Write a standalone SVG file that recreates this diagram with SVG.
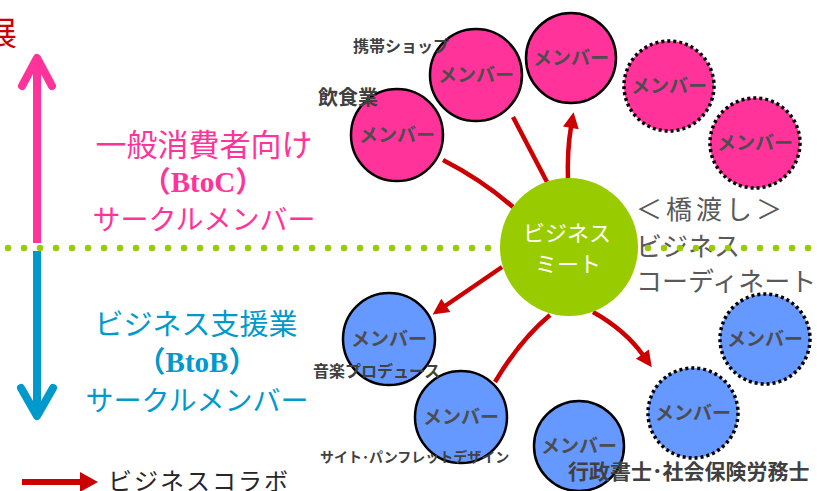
<svg xmlns="http://www.w3.org/2000/svg" width="817" height="491" viewBox="0 0 817 491">
<style>
.jp{font-family:"Noto Sans CJK JP","Noto Sans",sans-serif}
.mem{font-family:"Noto Sans CJK JP",sans-serif;font-size:19px;font-weight:700;fill:#4d4d4d;text-anchor:middle}
.lbl{font-family:"Noto Sans CJK JP",sans-serif;font-weight:700;fill:#404040}
.pk{fill:#ff3399;stroke:#000;stroke-width:2.5}
.pkd{fill:#ff3399;stroke:#000;stroke-width:3.5;stroke-dasharray:3 3}
.bl{fill:#6699ff;stroke:#000;stroke-width:2.5}
.bld{fill:#6699ff;stroke:#000;stroke-width:3.5;stroke-dasharray:3 3}
.con{fill:none;stroke:#cc0000;stroke-width:4.5}
.gray{font-family:"Noto Sans CJK JP",sans-serif;font-size:26px;fill:#595959}
</style>
<defs>
<marker id="ah" markerUnits="userSpaceOnUse" markerWidth="16" markerHeight="18" refX="0" refY="8" orient="auto" overflow="visible">
<path d="M-1,0 L15,8 L-1,16 z" fill="#cc0000"/>
</marker>
</defs>
<rect width="817" height="491" fill="#fff"/>

<g id="title">
<text x="-16" y="45" class="jp" font-size="33" fill="#cc0000">展</text>
</g>

<g id="axis-btoc">
<line x1="37" y1="243" x2="37" y2="60" stroke="#ff3399" stroke-width="8"/>
<polyline points="22,86 37,58 52,86" fill="none" stroke="#ff3399" stroke-width="8" stroke-linecap="round" stroke-linejoin="round"/>
<text x="204" y="156" class="jp" font-size="31" fill="#ff3399" text-anchor="middle">一般消費者向け</text>
<text x="203" y="192" font-family="'Liberation Serif','Noto Sans CJK JP',serif" font-size="29" font-weight="700" fill="#ff3399" text-anchor="middle">（BtoC）</text>
<text x="204" y="230" class="jp" font-size="28" fill="#ff3399" text-anchor="middle">サークルメンバー</text>
</g>

<g id="axis-btob">
<line x1="37" y1="251" x2="37" y2="414" stroke="#0099cc" stroke-width="8"/>
<polyline points="21,388 37,416 53,388" fill="none" stroke="#0099cc" stroke-width="8" stroke-linecap="round" stroke-linejoin="round"/>
<text x="196" y="335" class="jp" font-size="29" fill="#0099cc" text-anchor="middle">ビジネス支援業</text>
<text x="197" y="372" font-family="'Liberation Serif','Noto Sans CJK JP',serif" font-size="29" font-weight="700" fill="#0099cc" text-anchor="middle">（BtoB）</text>
<text x="197" y="411" class="jp" font-size="28" fill="#0099cc" text-anchor="middle">サークルメンバー</text>
</g>

<g id="bridge-text">
<text x="636" y="219" class="gray" letter-spacing="4">＜橋渡し＞</text>
<text x="636" y="256" class="gray">ビジネス</text>
<text x="636" y="291" class="gray">コーディネート</text>
</g>

<line id="divider" x1="8" y1="248" x2="817" y2="248" stroke="#99cc00" stroke-width="6.5" stroke-linecap="round" stroke-dasharray="0 16"/>

<g id="connectors">
<path class="con" d="M443,160 Q482,180 513,207"/>
<path class="con" d="M513,117 L547,182"/>
<path class="con" d="M568,182 Q567,150 571,127" marker-end="url(#ah)"/>
<path class="con" d="M502,267 L445,306" marker-end="url(#ah)"/>
<path class="con" d="M550,315 Q520,340 495,382"/>
<path class="con" d="M593,312 Q625,330 643,355" marker-end="url(#ah)"/>
</g>

<g id="hub">
<circle cx="569" cy="247" r="69" fill="#99cc00"/>
<text x="567" y="241" class="jp" font-size="22" fill="#fff" text-anchor="middle">ビジネス</text>
<text x="568" y="272" class="jp" font-size="22" fill="#fff" text-anchor="middle">ミート</text>
</g>

<g id="m-inshoku"><circle class="pk" cx="397" cy="135" r="46"/><text class="mem" x="397" y="142">メンバー</text></g>
<g id="m-keitai"><circle class="pk" cx="476" cy="75" r="46"/><text class="mem" x="476" y="82">メンバー</text></g>
<g id="m-pink3"><circle class="pk" cx="571" cy="58" r="45"/><text class="mem" x="571" y="65">メンバー</text></g>
<g id="m-pink4"><circle class="pkd" cx="669" cy="86" r="45"/><text class="mem" x="669" y="93">メンバー</text></g>
<g id="m-pink5"><circle class="pkd" cx="755" cy="143" r="45"/><text class="mem" x="755" y="150">メンバー</text></g>

<g id="m-ongaku"><circle class="bl" cx="389" cy="339" r="46"/><text class="mem" x="389" y="346">メンバー</text></g>
<g id="m-site"><circle class="bl" cx="461" cy="417" r="46"/><text class="mem" x="461" y="424">メンバー</text></g>
<g id="m-gyosei"><circle class="bl" cx="579" cy="446" r="45"/><text class="mem" x="579" y="453">メンバー</text></g>
<g id="m-blue4"><circle class="bld" cx="693" cy="413" r="45"/><text class="mem" x="693" y="420">メンバー</text></g>
<g id="m-blue5"><circle class="bld" cx="765" cy="339" r="45"/><text class="mem" x="765" y="346">メンバー</text></g>

<g id="labels">
<text class="lbl" x="353" y="52" font-size="16">携帯ショップ</text>
<text class="lbl" x="318" y="105" font-size="20">飲食業</text>
<text class="lbl" x="313" y="377" font-size="16">音楽プロデュース</text>
<text class="lbl" x="320" y="462" font-size="14">サイト･パンフレットデザイン</text>
<text class="lbl" x="568" y="479" font-size="21">行政書士･社会保険労務士</text>
</g>

<g id="legend">
<line x1="22" y1="482" x2="82" y2="482" stroke="#cc0000" stroke-width="6"/>
<polygon points="80,472 98,482 80,492" fill="#cc0000"/>
<text x="108" y="490" class="jp" font-size="24" letter-spacing="2" fill="#262626">ビジネスコラボ</text>
</g>
</svg>
